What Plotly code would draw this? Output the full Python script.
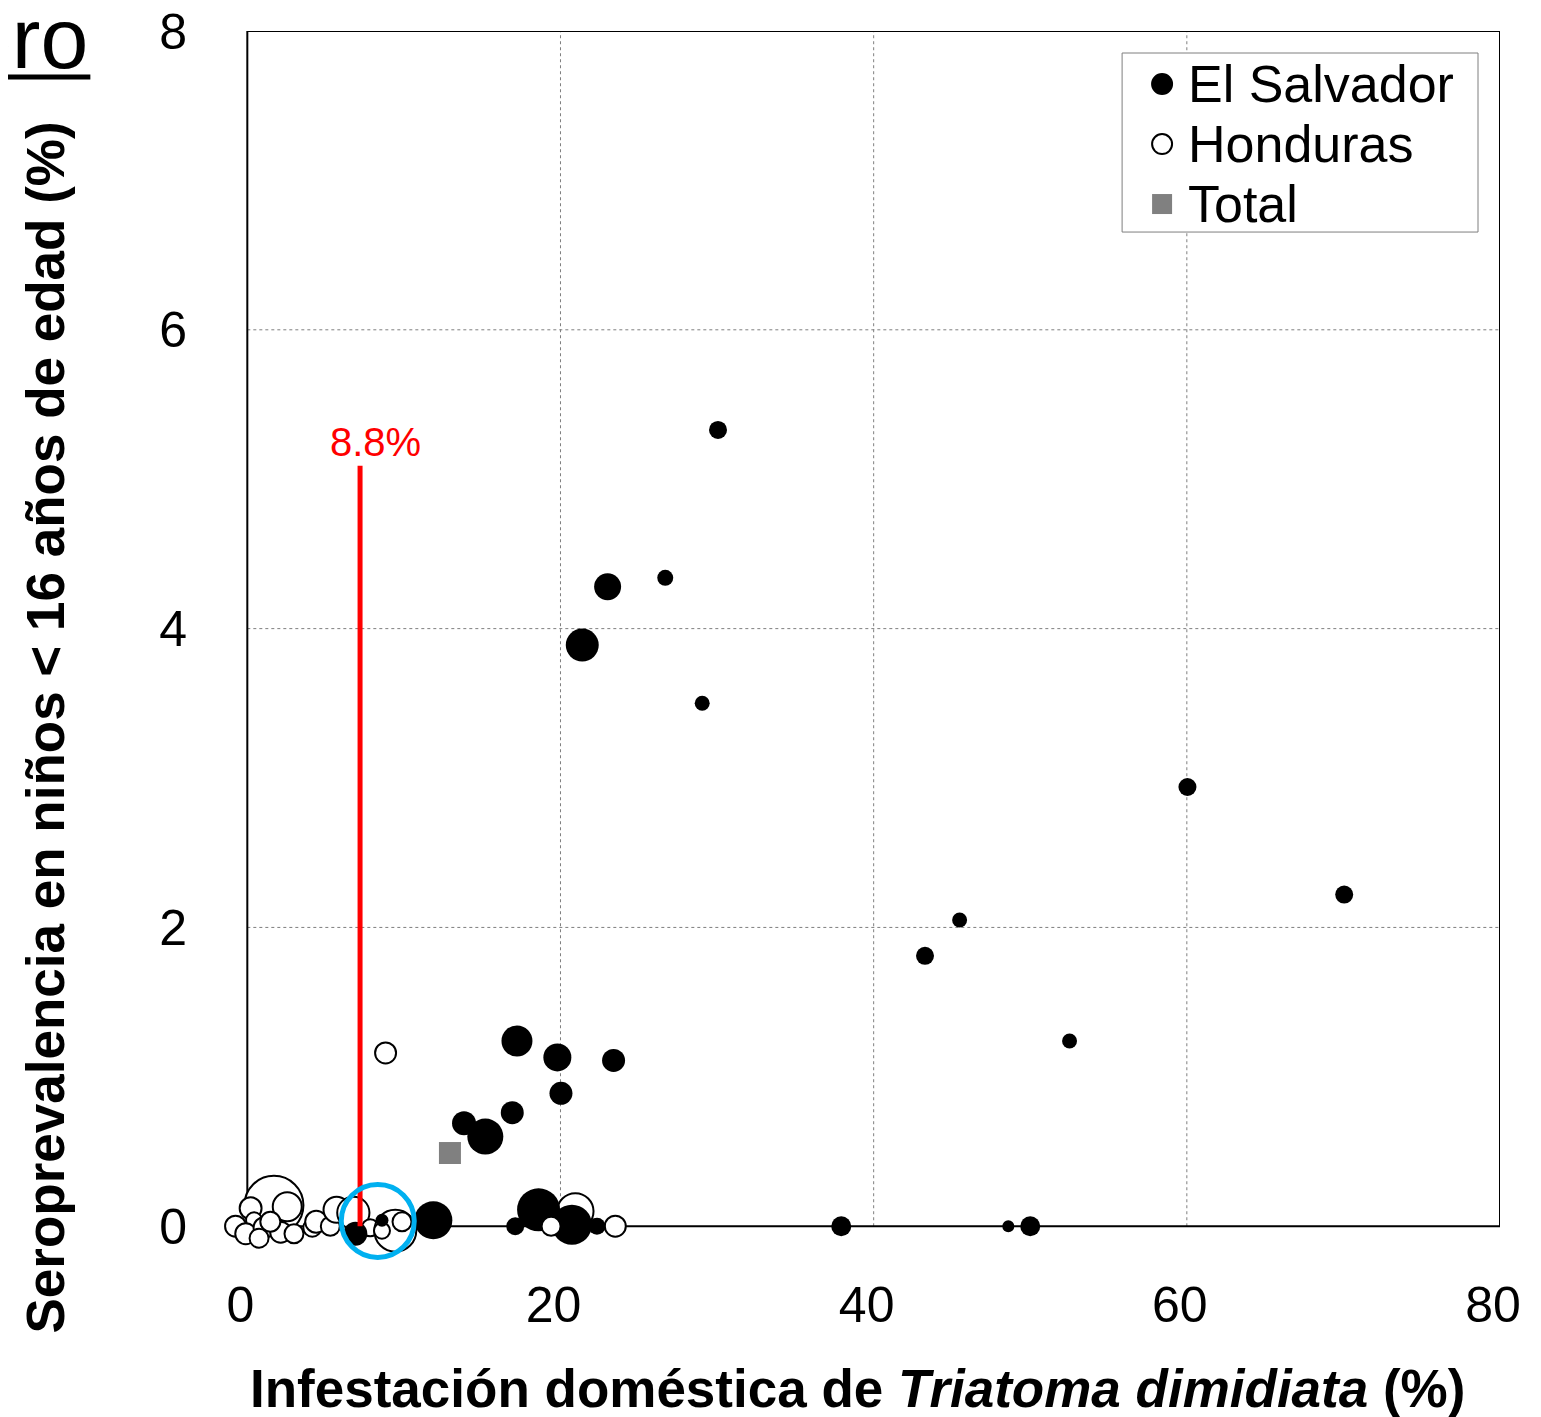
import plotly.graph_objects as go

# ---------------- data ----------------
# El Salvador villages: domestic infestation (%), seroprevalence (%), bubble weight
es_x = [30.06, 26.69, 23.01, 21.39, 29.05, 60.04, 70.05, 45.49, 43.28, 52.51,
        17.22, 19.80, 23.39, 20.03, 16.92, 13.84, 15.20, 11.88, 17.11, 18.60,
        20.73, 22.33, 37.93, 48.60, 50.00, 8.60, 6.90]
es_y = [5.33, 4.34, 4.28, 3.89, 3.50, 2.94, 2.22, 2.05, 1.81, 1.24,
        1.24, 1.13, 1.11, 0.89, 0.76, 0.69, 0.60, 0.04, 0.00, 0.11,
        0.01, 0.00, 0.00, 0.00, 0.00, 0.04, -0.05]
es_n = [81, 64, 182, 272, 56, 81, 81, 56, 81, 56,
        240, 196, 132, 132, 132, 144, 324, 361, 81, 462,
        400, 72, 100, 36, 100, 42, 144]

# Honduras villages (drawn beneath El Salvador)
hn_x = [1.70, 2.55, 0.21, 0.43, -0.75, -0.10, 1.07, 0.75, 2.13, 2.98, 1.47,
        4.15, 4.40, 5.30, 5.70, 6.77, 7.85, 9.45, 8.60, 9.88, 8.83, 20.95, 23.50]
hn_y = [0.14, 0.13, 0.12, 0.04, 0.00, -0.05, -0.01, -0.08, -0.04, -0.05, 0.03,
        -0.01, 0.03, 0.00, 0.11, 0.09, -0.01, -0.03, -0.03, 0.03, 1.16, 0.10, 0.00]
hn_n = [870, 210, 120, 64, 110, 110, 110, 90, 110, 90, 100,
        81, 121, 90, 170, 260, 72, 440, 64, 90, 110, 330, 110]
# Honduras village drawn over the El Salvador cluster
hn_front_x = [19.40]
hn_front_y = [0.00]
hn_front_n = [90]

# Total
total_x = [12.94]
total_y = [0.49]

# Reference line (8.8 %) and highlighted village
ref_x = [7.2, 7.2]
ref_y = [0.0, 5.09]
ref_label = "8.8%"
ref_label_pos = (8.17, 5.25)
highlight_x = [8.33]
highlight_y = [0.035]

x_ticks = [0, 20, 40, 60, 80]
y_ticks = [0, 2, 4, 6, 8]
x_frame = [0, 80]
y_frame = [0, 8]
legend_labels = ["El Salvador", "Honduras", "Total"]

# ---------------- geometry ----------------
FONT = "Liberation Sans, Arial, sans-serif"
SIZEREF = 0.5
BODY = 8                       # default html body margin
W, H = 1541, 1417
F_L, F_R, F_T, F_B = 247, 1500, 31, 1226   # frame in page pixels
X_RANGE = [-2, 80]             # a little room so bubbles at the edge stay visible
Y_RANGE = [-0.4, 8]
SX = (F_R - F_L) / (x_frame[1] - x_frame[0])
SY = (F_B - F_T) / (y_frame[1] - y_frame[0])
P_L = F_L + (X_RANGE[0] - x_frame[0]) * SX
P_B = F_B - (Y_RANGE[0] - y_frame[0]) * SY
P_R, P_T = F_R, F_T


def px(p):
    return (p - P_L) / (P_R - P_L)


def py(p):
    return (P_B - p) / (P_B - P_T)


fig = go.Figure()

fig.add_trace(go.Scatter(
    x=hn_x, y=hn_y, mode="markers", name="Honduras", showlegend=False,
    cliponaxis=False,
    marker=dict(size=hn_n, sizemode="area", sizeref=SIZEREF, color="white",
                line=dict(color="black", width=2), opacity=1),
))
fig.add_trace(go.Scatter(
    x=es_x, y=es_y, mode="markers", name="El Salvador", showlegend=False,
    cliponaxis=False,
    marker=dict(size=es_n, sizemode="area", sizeref=SIZEREF, color="black",
                line=dict(width=0), opacity=1),
))
fig.add_trace(go.Scatter(
    x=hn_front_x, y=hn_front_y, mode="markers", showlegend=False,
    cliponaxis=False,
    marker=dict(size=hn_front_n, sizemode="area", sizeref=SIZEREF, color="white",
                line=dict(color="black", width=2), opacity=1),
))
fig.add_trace(go.Scatter(
    x=total_x, y=total_y, mode="markers", name="Total", showlegend=False,
    cliponaxis=False,
    marker=dict(symbol="square", size=22, color="#808080", line=dict(width=0)),
))
fig.add_trace(go.Scatter(
    x=ref_x, y=ref_y, mode="lines", showlegend=False, cliponaxis=False,
    line=dict(color="#ff0000", width=5),
))
fig.add_trace(go.Scatter(
    x=highlight_x, y=highlight_y, mode="markers", showlegend=False, cliponaxis=False,
    marker=dict(symbol="circle-open", size=73, color="#00b0f0",
                line=dict(color="#00b0f0", width=5)),
))

fig.add_annotation(x=ref_label_pos[0], y=ref_label_pos[1], xref="x", yref="y",
                   text=ref_label, showarrow=False,
                   font=dict(family=FONT, size=40, color="#ff0000"))

# grid (dotted) and frame, drawn on the data scale
grid = dict(color="#7f7f7f", width=1, dash="dot")
for gx in x_ticks[1:-1]:
    fig.add_shape(type="line", xref="x", yref="y", x0=gx, x1=gx,
                  y0=y_frame[0], y1=y_frame[1], line=grid, layer="below")
for gy in y_ticks[1:-1]:
    fig.add_shape(type="line", xref="x", yref="y", y0=gy, y1=gy,
                  x0=x_frame[0], x1=x_frame[1], line=grid, layer="below")
fig.add_shape(type="rect", xref="x", yref="y", x0=x_frame[0], x1=x_frame[1],
              y0=y_frame[0], y1=y_frame[1], line=dict(color="black", width=2),
              layer="below")

# axis titles
fig.add_annotation(xref="paper", yref="paper", x=px(857), y=py(1388),
                   xanchor="center", yanchor="middle", showarrow=False,
                   text="<b>Infestación doméstica de <i>Triatoma dimidiata</i> (%)</b>",
                   font=dict(family=FONT, size=53, color="black"))
fig.add_annotation(xref="paper", yref="paper", x=px(45), y=py(727),
                   xanchor="center", yanchor="middle", showarrow=False, textangle=-90,
                   text="<b>Seroprevalencia en niños < 16 años de edad (%)</b>",
                   font=dict(family=FONT, size=53, color="black"))
# cropped heading at top-left, underlined
fig.add_annotation(xref="paper", yref="paper", x=px(90), y=py(38),
                   xanchor="right", yanchor="middle", showarrow=False,
                   text="ero",
                   font=dict(family="Liberation Sans Narrow, Arial Narrow, " + FONT,
                             size=86, color="black"))
fig.add_shape(type="line", xref="paper", yref="paper", x0=px(0), x1=px(90),
              y0=py(77), y1=py(77), line=dict(color="black", width=5))

# legend box
fig.add_shape(type="rect", xref="paper", yref="paper", x0=px(1122), x1=px(1478),
              y0=py(53), y1=py(232), line=dict(color="#7f7f7f", width=1),
              fillcolor="white", layer="above")
leg_y = [84, 144, 204]
fig.add_shape(type="circle", xref="paper", yref="paper", x0=px(1151), x1=px(1173),
              y0=py(leg_y[0] + 11), y1=py(leg_y[0] - 11),
              line=dict(width=0), fillcolor="black", layer="above")
fig.add_shape(type="circle", xref="paper", yref="paper", x0=px(1152), x1=px(1172),
              y0=py(leg_y[1] + 10), y1=py(leg_y[1] - 10),
              line=dict(color="black", width=2), fillcolor="white", layer="above")
fig.add_shape(type="rect", xref="paper", yref="paper", x0=px(1152), x1=px(1172),
              y0=py(leg_y[2] + 10), y1=py(leg_y[2] - 10),
              line=dict(width=0), fillcolor="#808080", layer="above")
for lbl, ly in zip(legend_labels, leg_y):
    fig.add_annotation(xref="paper", yref="paper", x=px(1186), y=py(ly),
                       xanchor="left", yanchor="middle", showarrow=False, text=lbl,
                       font=dict(family=FONT, size=52, color="black"))

axis_common = dict(showline=False, showgrid=False, zeroline=False, ticks="",
                   automargin=False, ticklabeloverflow="allow",
                   tickfont=dict(family=FONT, size=50, color="black"))

fig.update_xaxes(range=X_RANGE, tickvals=x_ticks,
                 ticklabelstandoff=int(round(45 - (P_B - F_B))), ticklabelshift=-7,
                 **axis_common)
fig.update_yaxes(range=Y_RANGE, tickvals=y_ticks,
                 ticklabelstandoff=int(round(59 - (F_L - P_L))), **axis_common)

fig.update_layout(
    width=W - BODY, height=H - BODY,
    margin=dict(l=P_L - BODY, r=W - P_R, t=P_T - BODY, b=H - P_B, pad=0),
    paper_bgcolor="white", plot_bgcolor="white",
    font=dict(family=FONT, color="black"),
    showlegend=False,
)

fig.write_html("out.html")
